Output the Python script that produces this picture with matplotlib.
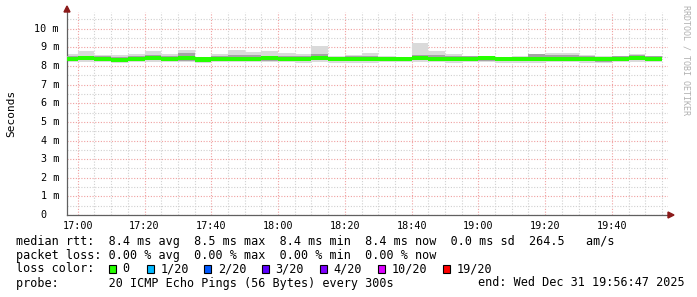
import numpy as np
import matplotlib
matplotlib.use("Agg")
import matplotlib.pyplot as plt
from matplotlib.patches import Rectangle, Polygon
from matplotlib.transforms import offset_copy

# 5 minute bins, minutes relative to 17:00 (first bin is 16:55-17:00)
bin_edges = np.arange(-5, 176, 5)

# median rtt per bin (ms)
median = [8.36, 8.42, 8.40, 8.34, 8.38, 8.41, 8.40, 8.41, 8.35, 8.39, 8.40, 8.40,
          8.41, 8.40, 8.38, 8.42, 8.37, 8.36, 8.37, 8.38, 8.39, 8.42, 8.40, 8.38,
          8.40, 8.41, 8.38, 8.37, 8.40, 8.39, 8.40, 8.37, 8.36, 8.39, 8.42, 8.40]
# smoke: min / max of the 20 pings (ms)
smoke_max = [8.66, 8.78, 8.60, 8.58, 8.66, 8.82, 8.66, 8.84, 8.51, 8.66, 8.87, 8.76,
             8.78, 8.72, 8.66, 9.10, 8.56, 8.60, 8.71, 8.53, 8.50, 9.21, 8.83, 8.66,
             8.55, 8.51, 8.51, 8.55, 8.66, 8.69, 8.69, 8.60, 8.55, 8.55, 8.66, 8.55]
smoke_min = [8.20, 8.22, 8.21, 8.17, 8.19, 8.20, 8.21, 8.20, 8.18, 8.20, 8.19, 8.21,
             8.20, 8.19, 8.18, 8.21, 8.16, 8.18, 8.17, 8.19, 8.20, 8.21, 8.20, 8.18,
             8.20, 8.21, 8.17, 8.16, 8.17, 8.19, 8.20, 8.18, 8.17, 8.19, 8.21, 8.20]
# inner smoke band (ms)
inner_hi = [8.52, 8.55, 8.52, 8.50, 8.55, 8.58, 8.55, 8.70, 8.48, 8.52, 8.60, 8.58,
            8.56, 8.55, 8.55, 8.62, 8.50, 8.52, 8.54, 8.50, 8.48, 8.58, 8.60, 8.56,
            8.52, 8.50, 8.50, 8.50, 8.62, 8.60, 8.58, 8.54, 8.50, 8.52, 8.60, 8.52]
inner_lo = [8.25, 8.30, 8.28, 8.24, 8.28, 8.30, 8.28, 8.28, 8.26, 8.28, 8.30, 8.30,
            8.28, 8.28, 8.28, 8.30, 8.26, 8.25, 8.26, 8.28, 8.28, 8.30, 8.28, 8.27,
            8.28, 8.28, 8.25, 8.26, 8.26, 8.28, 8.27, 8.25, 8.24, 8.27, 8.30, 8.28]

x_ticks = [0, 20, 40, 60, 80, 100, 120, 140, 160]
x_labels = ["17:00", "17:20", "17:40", "18:00", "18:20", "18:40", "19:00", "19:20", "19:40"]
y_ticks = [0, 1, 2, 3, 4, 5, 6, 7, 8, 9, 10]
y_labels = ["0", "1 m", "2 m", "3 m", "4 m", "5 m", "6 m", "7 m", "8 m", "9 m", "10 m"]

rtt_stats = ["8.4 ms avg", "8.5 ms max", "8.4 ms min", "8.4 ms now", "0.0 ms sd", "264.5   am/s"]
loss_stats = ["0.00 % avg", "0.00 % max", "0.00 % min", "0.00 % now"]
loss_labels = ["0", "1/20", "2/20", "3/20", "4/20", "10/20", "19/20"]
loss_colors = ["#26ff00", "#00b8ff", "#0059ff", "#5e00ff", "#7e00ff", "#dd00ff", "#ff0000"]

W, H = 697, 297
MONO = "DejaVu Sans Mono"

fig = plt.figure(figsize=(W / 100, H / 100), dpi=100)
ax = fig.add_axes([67 / W, (H - 215) / H, 601 / W, 203 / H])

start = -(3 + 13 / 60)
ax.set_xlim(start, start + 180)
ax.set_ylim(0, 10.9)

# smoke + median
ax.stairs(smoke_max, bin_edges, baseline=smoke_min, fill=True, color="#dadada", zorder=2)
ax.stairs(inner_hi, bin_edges, baseline=inner_lo, fill=True, color="#a4a4a4", zorder=3)
med = np.array(median)
ax.stairs(med + 0.11, bin_edges, baseline=med - 0.11, fill=True, color=loss_colors[0], zorder=4)

# grid
ax.set_xticks(x_ticks)
ax.set_xticks(np.arange(5, 180, 5), minor=True)
ax.set_yticks(y_ticks)
ax.set_yticks(np.arange(0.5, 11, 0.5), minor=True)
ax.grid(which="major", color="#f0a0a0", linestyle=(0, (1, 1.5)), linewidth=0.8)
ax.grid(which="minor", color="#d0d0d0", linestyle=(0, (1, 1.5)), linewidth=0.8)
ax.set_axisbelow(True)
ax.tick_params(which="both", length=0)
ax.set_xticklabels(x_labels, fontfamily=MONO, fontsize=7.3)
ax.tick_params(axis="x", pad=4)
ax.set_yticklabels([])

for v, lab in zip(y_ticks, y_labels):
    shift = -5.8 if v != 0 else -5.8 - 12 * 0.72
    tr = offset_copy(ax.get_yaxis_transform(), fig=fig, x=shift, y=0, units="points")
    ax.text(0, v, lab, transform=tr, ha="right", va="center", fontfamily=MONO, fontsize=7.3)

for s in ["top", "right"]:
    ax.spines[s].set_visible(False)
for s in ["left", "bottom"]:
    ax.spines[s].set_color("#606060")
    ax.spines[s].set_linewidth(0.9)

# axis arrows
arrow_col = "#8b1a1a"
fig.add_artist(Polygon([(67 / W, 1 - 6 / H), (64 / W, 1 - 12 / H), (70 / W, 1 - 12 / H)],
                       closed=True, transform=fig.transFigure, color=arrow_col))
fig.add_artist(Polygon([(674 / W, 1 - 215 / H), (668 / W, 1 - 212 / H), (668 / W, 1 - 218 / H)],
                       closed=True, transform=fig.transFigure, color=arrow_col))

fig.text(11 / W, 1 - 113 / H, "Seconds", rotation=90, ha="center", va="center",
         fontfamily=MONO, fontsize=8)
fig.text(686 / W, 1 - 5 / H, "RRDTOOL / TOBI OETIKER", rotation=270, ha="center", va="top",
         fontfamily=MONO, fontsize=6, color="#b0b0b0")

# legend block
fs = 8.5
row1 = "median rtt:  " + "  ".join(rtt_stats)
row2 = "packet loss: " + "  ".join(loss_stats)
fig.text(16 / W, 1 - 241 / H, row1, ha="left", va="center", fontfamily=MONO, fontsize=fs)
fig.text(16 / W, 1 - 255 / H, row2, ha="left", va="center", fontfamily=MONO, fontsize=fs)
fig.text(16 / W, 1 - 269 / H, "loss color:", ha="left", va="center", fontfamily=MONO, fontsize=fs)
sq_x = [108.5, 146.5, 204, 261.5, 319.5, 377.5, 442.5]
for xs, lab, col in zip(sq_x, loss_labels, loss_colors):
    fig.add_artist(Rectangle((xs / W, 1 - 272.5 / H), 7 / W, 7.5 / H, transform=fig.transFigure,
                             facecolor=col, edgecolor="black", linewidth=0.8))
    fig.text((xs + 14) / W, 1 - 269 / H, lab, ha="left", va="center", fontfamily=MONO, fontsize=fs)
fig.text(16 / W, 1 - 283 / H, "probe:       20 ICMP Echo Pings (56 Bytes) every 300s",
         ha="left", va="center", fontfamily=MONO, fontsize=fs)
fig.text(478 / W, 1 - 283 / H, "end: Wed Dec 31 19:56:47 2025",
         ha="left", va="center", fontfamily=MONO, fontsize=fs)

fig.savefig("out.png", dpi=100)
